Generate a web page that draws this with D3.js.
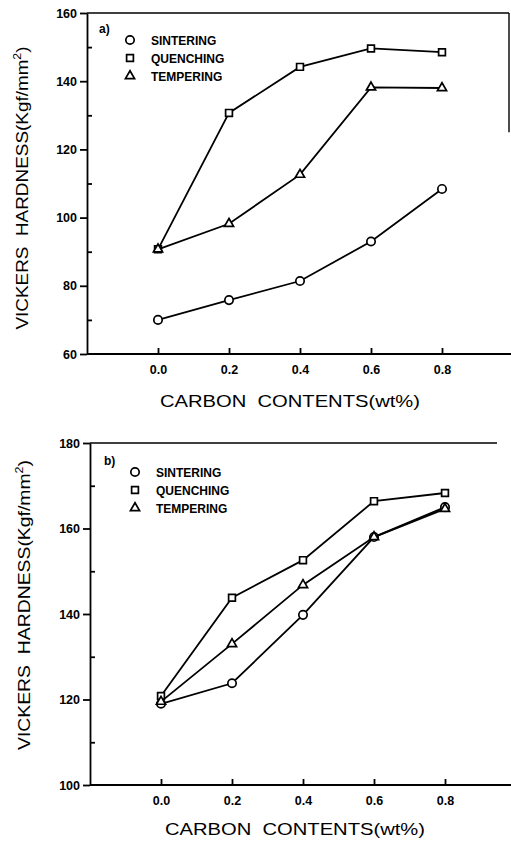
<!DOCTYPE html>
<html>
<head>
<meta charset="utf-8">
<script src="https://cdn.jsdelivr.net/npm/d3@7"></script>
<style>
  body { margin: 0; background: #fff; }
  svg { display: block; }
  text { white-space: pre; }
  .tick text { font-family: "Liberation Sans", Arial, sans-serif; font-weight: bold; font-size: 12.5px; fill: #000; }
  .domain, .tick line { stroke: #000; stroke-width: 1.8; }
</style>
</head>
<body>
<div id="chart"></div>
<script>
// data
const carbon = [0.0, 0.2, 0.4, 0.6, 0.8];
const seriesNames = ["SINTERING", "QUENCHING", "TEMPERING"];

const aSintering = [70, 75.8, 81.4, 93, 108.4];
const aQuenching = [90.7, 130.7, 144.2, 149.6, 148.5];
const aTempering = [90.7, 98.2, 112.6, 138.2, 138];

const bSintering = [119, 123.8, 139.8, 158, 165];
const bQuenching = [120.8, 143.8, 152.6, 166.4, 168.3];
const bTempering = [119.5, 133, 146.8, 158, 164.6];

const aYTicks = [60, 80, 100, 120, 140, 160];
const aYMinor = [70, 90, 110, 130, 150];
const bYTicks = [100, 120, 140, 160, 180];
const bYMinor = [110, 130, 150, 170];
const xTicks = [0.0, 0.2, 0.4, 0.6, 0.8];

const W = 511, H = 843;
const svg = d3.select("#chart").append("svg")
  .attr("width", W).attr("height", H);

const symbols = [d3.symbolCircle, d3.symbolSquare, d3.symbolTriangle];
const symSize = [55, 46, 36];

function panel(p) {
  const x = d3.scaleLinear().domain([-0.2, 1.0]).range([p.left, p.left + 426]);
  const y = d3.scaleLinear().domain(p.ydom).range([p.bottom, p.top]);
  const g = svg.append("g");

  // frame top (and right for panel a)
  g.append("line")
    .attr("x1", p.left).attr("x2", p.right)
    .attr("y1", p.top).attr("y2", p.top)
    .attr("stroke", "#000").attr("stroke-width", 1.6);
  if (p.rightLine) {
    g.append("line")
      .attr("x1", p.right).attr("x2", p.right)
      .attr("y1", p.top).attr("y2", y(p.rightLine))
      .attr("stroke", "#000").attr("stroke-width", 1.4);
  }

  // y axis, major ticks outside
  g.append("g")
    .attr("transform", `translate(${p.left},0)`)
    .call(d3.axisLeft(y).tickValues(p.yTicks).tickSize(7).tickPadding(3).tickSizeOuter(0)
      .tickFormat(d3.format("d")));
  // minor ticks inside
  g.append("g")
    .attr("transform", `translate(${p.left},0)`)
    .call(d3.axisRight(y).tickValues(p.yMinor).tickSize(5).tickSizeOuter(0).tickFormat(""))
    .select(".domain").remove();

  // x axis, ticks pointing up
  const xa = g.append("g")
    .attr("transform", `translate(0,${p.bottom})`)
    .call(d3.axisBottom(x).tickValues(xTicks).tickSize(-6).tickPadding(11).tickSizeOuter(0)
      .tickFormat(d3.format(".1f")));
  xa.select(".domain").attr("d", `M${p.left},0H${p.xEnd}`);

  // lines + markers
  const line = d3.line().x((d, i) => x(carbon[i])).y(d => y(d));
  p.series.forEach((s, k) => {
    g.append("path").datum(s)
      .attr("d", line)
      .attr("fill", "none").attr("stroke", "#000").attr("stroke-width", 1.8);
    g.selectAll(null).data(s).join("path")
      .attr("transform", (d, i) => `translate(${x(carbon[i])},${y(d)})`)
      .attr("d", d3.symbol(symbols[k], symSize[k]))
      .attr("fill", "#fff").attr("stroke", "#000").attr("stroke-width", 1.7);
  });

  // legend
  g.append("text").attr("x", p.lx - 31).attr("y", p.ly - 7)
    .attr("font-family", "Liberation Sans, Arial, sans-serif").attr("font-weight", "bold")
    .attr("font-size", 12).text(p.tag);
  seriesNames.forEach((n, k) => {
    const yy = p.ly + k * 18;
    g.append("path")
      .attr("transform", `translate(${p.lx},${yy})`)
      .attr("d", d3.symbol(symbols[k], symSize[k]))
      .attr("fill", "#fff").attr("stroke", "#000").attr("stroke-width", 1.7);
    g.append("text").attr("x", p.lx + 21).attr("y", yy + 4.5)
      .attr("font-family", "Liberation Sans, Arial, sans-serif").attr("font-weight", "bold")
      .attr("font-size", 12).text(n);
  });

  // axis titles
  const yl = g.append("text")
    .attr("transform", `translate(${p.ylx},${p.yly}) rotate(-90)`)
    .attr("text-anchor", "middle")
    .attr("font-family", "Liberation Sans, Arial, sans-serif")
    .attr("font-size", 17)
    .attr("textLength", p.ylLen).attr("lengthAdjust", "spacingAndGlyphs");
  yl.append("tspan").text("VICKERS  HARDNESS(Kgf/mm");
  yl.append("tspan").attr("dy", -7).attr("font-size", 11).text("2");
  yl.append("tspan").attr("dy", 7).text(")");

  g.append("text")
    .attr("x", p.xlx).attr("y", p.xly)
    .attr("text-anchor", "middle")
    .attr("font-family", "Liberation Sans, Arial, sans-serif")
    .attr("font-size", 17)
    .attr("textLength", 260).attr("lengthAdjust", "spacingAndGlyphs")
    .text("CARBON  CONTENTS(wt%)");
}

panel({
  tag: "a)", left: 87, right: 509, xEnd: 511, top: 13, bottom: 354, ydom: [60, 160],
  yTicks: aYTicks, yMinor: aYMinor, series: [aSintering, aQuenching, aTempering],
  lx: 130, ly: 40, ylx: 28, yly: 188, ylLen: 283, xlx: 290, xly: 407, rightLine: 125
});

panel({
  tag: "b)", left: 90, right: 497, xEnd: 511, top: 443, bottom: 785, ydom: [100, 180],
  yTicks: bYTicks, yMinor: bYMinor, series: [bSintering, bQuenching, bTempering],
  lx: 135, ly: 472, ylx: 30, yly: 605, ylLen: 290, xlx: 295, xly: 835
});
</script>
</body>
</html>
